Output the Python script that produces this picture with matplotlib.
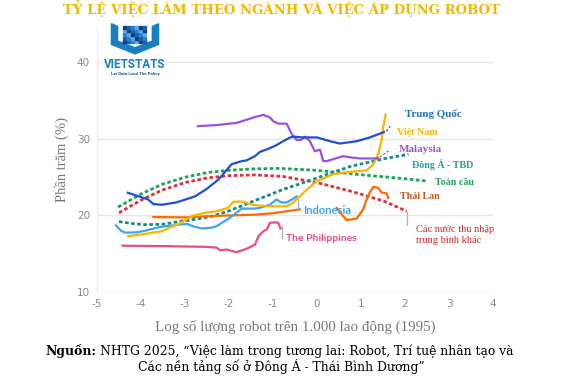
import numpy as np
import matplotlib
matplotlib.use("Agg")
import matplotlib.pyplot as plt
from matplotlib.patches import Polygon, Rectangle

plt.rcParams["axes.unicode_minus"] = False

# ---------------------------------------------------------------------------
# data
# ---------------------------------------------------------------------------
cn_x = [-4.30, -4.05, -3.84, -3.72, -3.53, -3.2, -2.77, -2.5, -2.24, -1.94, -1.71, -1.6,
        -1.41, -1.3, -1.07, -0.92, -0.77, -0.61, -0.54, -0.31, 0.0, 0.3, 0.52, 0.9, 1.2, 1.52]
cn_y = [22.97, 22.5, 22.1, 21.5, 21.4, 21.7, 22.5, 23.5, 24.7, 26.7, 27.1, 27.2,
        27.75, 28.3, 28.8, 29.2, 29.7, 30.2, 30.3, 30.2, 30.2, 29.7, 29.4, 29.7, 30.2, 30.9]

my_x = [-2.71, -2.3, -1.83, -1.6, -1.45, -1.22, -1.07, -0.99, -0.88, -0.69, -0.57, -0.46,
        -0.35, -0.27, -0.16, -0.05, 0.07, 0.14, 0.22, 0.45, 0.6, 0.75, 0.98, 1.28, 1.38]
my_y = [31.67, 31.8, 32.1, 32.5, 32.8, 33.15, 32.8, 32.3, 32.0, 32.0, 30.6, 29.85,
        29.9, 30.3, 29.7, 28.4, 28.6, 27.1, 27.1, 27.5, 27.75, 27.6, 27.45, 27.45, 27.5]

vn_x = [-4.29, -3.9, -3.53, -3.11, -2.81, -2.5, -2.28, -2.02, -1.9, -1.67, -1.48, -1.14,
        -0.69, -0.54, -0.39, -0.23, 0.0, 0.37, 0.75, 1.13, 1.28, 1.39, 1.47, 1.51, 1.56]
vn_y = [17.3, 17.6, 17.95, 19.0, 20.0, 20.4, 20.55, 21.0, 21.8, 21.8, 21.4, 21.2,
        21.2, 21.7, 22.5, 23.4, 24.5, 25.4, 25.7, 25.9, 26.7, 28.0, 29.9, 31.7, 33.2]

id_x = [-4.57, -4.45, -4.36, -4.1, -3.91, -3.57, -3.15, -2.96, -2.77, -2.62, -2.4, -2.28,
        -1.98, -1.71, -1.41, -1.3, -1.07, -0.92, -0.81, -0.69, -0.54, -0.46]
id_y = [18.7, 18.0, 17.75, 17.8, 18.0, 18.5, 18.8, 18.9, 18.5, 18.3, 18.4, 18.6,
        19.7, 20.9, 20.9, 21.0, 21.4, 22.1, 21.7, 21.7, 22.2, 22.5]

th_x = [-3.72, -3.0, -2.5, -2.0, -1.41, -1.0, -0.7, -0.39, np.nan, 0.45, 0.58, 0.67,
        0.9, 1.05, 1.12, 1.2, 1.28, 1.39, 1.47, 1.58, 1.62]
th_y = [19.8, 19.75, 19.9, 20.0, 20.1, 20.3, 20.55, 20.8, np.nan, 21.0, 20.0, 19.4,
        19.6, 20.8, 22.0, 23.0, 23.75, 23.6, 23.0, 22.9, 22.3]

ph_x = [-4.42, -3.5, -2.5, -2.28, -2.2, -2.05, -1.83, -1.6, -1.41, -1.33, -1.22, -1.14,
        -1.07, -0.95, -0.88, -0.83]
ph_y = [16.05, 16.0, 15.9, 15.8, 15.45, 15.55, 15.2, 15.65, 16.2, 17.3, 17.95, 18.2,
        19.05, 19.1, 19.05, 18.3]

# trend lines (dotted)
gl_x = [-4.52, -4.0, -3.53, -3.0, -2.5, -2.02, -1.41, -0.84, 0.0, 0.67, 1.43, 2.0, 2.49]
gl_y = [21.1, 22.8, 24.05, 25.0, 25.6, 25.9, 26.1, 26.15, 25.9, 25.5, 25.1, 24.8, 24.5]

mi_x = [-4.5, -4.0, -3.53, -3.0, -2.5, -2.02, -1.41, -0.77, 0.0, 0.75, 1.51, 2.04]
mi_y = [20.35, 22.0, 23.3, 24.3, 24.9, 25.2, 25.3, 25.1, 24.3, 23.2, 21.9, 20.56]

ea_x = [-4.5, -4.2, -3.91, -3.5, -3.15, -2.77, -2.39, -2.0, -1.52, -0.77, 0.0, 0.75, 1.51, 2.08]
ea_y = [19.2, 18.95, 18.8, 18.85, 19.2, 19.5, 19.9, 20.6, 21.7, 23.4, 24.9, 26.4, 27.4, 28.0]

x_ticks = [-5, -4, -3, -2, -1, 0, 1, 2, 3, 4]
y_ticks = [10, 20, 30, 40]

# ---------------------------------------------------------------------------
fig = plt.figure(figsize=(5.63, 3.85), dpi=100)
ax = fig.add_axes([97 / 563, 1 - 292 / 385, 396 / 563, 264 / 385])

dot = (0, (1.3, 0.9))
ax.plot(gl_x, gl_y, color="#1ea35a", lw=2, ls=dot)
ax.plot(mi_x, mi_y, color="#e0303a", lw=2, ls=dot)
ax.plot(ea_x, ea_y, color="#178a8a", lw=2, ls=dot)

ax.plot(ph_x, ph_y, color="#f0488a", lw=1.6)
ax.plot(th_x, th_y, color="#ff6a00", lw=1.6)
ax.plot(id_x, id_y, color="#3da5f5", lw=1.6)
ax.plot(vn_x, vn_y, color="#f7b500", lw=1.6)
ax.plot(my_x, my_y, color="#9b51e0", lw=1.6)
ax.plot(cn_x, cn_y, color="#1f4fd8", lw=1.6)

# leader lines
lead = "#b0b0b0"
ax.plot([-0.80, -0.80], [18.6, 17.1], color=lead, lw=0.9)
ax.plot([2.04, 2.04], [20.4, 18.7], color=lead, lw=0.9)
ax.plot([-0.43, -0.43], [22.2, 20.9], color="#7fb8e8", lw=0.9)
ax.plot([1.58, 1.66], [31.0, 31.7], color="#1f4fd8", lw=0.9, ls=(0, (2, 1.5)))
ax.plot([1.42, 1.64], [27.6, 28.5], color="#9b51e0", lw=0.9, ls=(0, (2, 1.5)))

lserif = ["Liberation Serif"]
lab = dict(fontsize=7.2, fontweight="bold", family=lserif, va="center", ha="left")
ax.text(2.0, 33.2, "Trung Quốc", color="#1f6fc5", fontsize=7.9, fontweight="bold",
        family=lserif, va="center", ha="left")
ax.text(1.82, 30.9, "Việt Nam", color="#f5b800", **lab)
ax.text(1.86, 28.6, "Malaysia", color="#9b51e0", fontsize=8, fontweight="bold",
        family=lserif, va="center", ha="left")
ax.text(2.15, 26.6, "Đông Á - TBD", color="#2a9a9a", **lab)
ax.text(2.68, 24.3, "Toàn cầu", color="#1ea35a", **lab)
ax.text(1.89, 22.45, "Thái Lan", color="#c45a1c", **lab)
ax.text(2.25, 17.4, "Các nước thu nhập\ntrung bình khác", color="#d62828",
        fontsize=7.5, family=lserif, va="center", ha="left", linespacing=1.3)
sans = ["Lato", "DejaVu Sans"]
ax.text(-0.31, 20.7, "Indonesia", color="#3da5f5", fontsize=8, fontweight="bold",
        family=sans, va="center", ha="left")
ax.text(-0.70, 16.95, "The Philippines", color="#f0488a", fontsize=7.5, fontweight="bold",
        family=sans, va="center", ha="left")

ax.set_xlim(-5, 4)
ax.set_ylim(10, 44.5)
ax.set_xticks(x_ticks)
ax.set_yticks(y_ticks)
ax.tick_params(axis="both", labelsize=7.5, colors="#8a8a8a", length=0, pad=5)
ax.yaxis.grid(True, color="#e6e6e6", lw=1)
ax.set_axisbelow(True)
for s in ["top", "right", "bottom"]:
    ax.spines[s].set_visible(False)
ax.spines["left"].set_color("#ececec")
ax.set_ylabel("Phần trăm (%)", family=lserif, fontsize=10.5,
              color="#777777", labelpad=6)
ax.set_xlabel("Log số lượng robot trên 1.000 lao động (1995)", family=lserif,
              fontsize=10.8, color="#777777", labelpad=8)

# title and source
serif = ["DejaVu Serif"]
fig.text(0.5, 0.977, "TỶ LỆ VIỆC LÀM THEO NGÀNH VÀ VIỆC ÁP DỤNG ROBOT", ha="center",
         va="center", fontsize=9.5, fontweight="bold", color="#f5b800", family=serif)

src_y1 = 1 - 351 / 385
src_y2 = 1 - 367 / 385
t_bold = fig.text(45 / 563, src_y1, "Nguồn:", ha="left", va="center", fontsize=8.9,
                  fontweight="bold", family=serif, color="black")
fig.canvas.draw()
bb = t_bold.get_window_extent()
fig.text(bb.x1 / fig.bbox.width + 4 / 563, src_y1,
         "NHTG 2025, “Việc làm trong tương lai: Robot, Trí tuệ nhân tạo và",
         ha="left", va="center", fontsize=8.9, family=serif, color="black")
fig.text(0.5, src_y2, "Các nền tảng số ở Đông Á - Thái Bình Dương”",
         ha="center", va="center", fontsize=8.9, family=serif, color="black")

# logo
lg = fig.add_axes([104 / 563, 1 - 78 / 385, 62 / 563, 56 / 385])
lg.set_xlim(0, 1)
lg.set_ylim(0, 1)
lg.axis("off")
lg.add_patch(Polygon([[0.12, 0.97], [0.12, 0.6], [0.5, 0.43], [0.88, 0.6], [0.88, 0.97],
                      [0.78, 0.92], [0.78, 0.66], [0.5, 0.54], [0.22, 0.66], [0.22, 0.92]],
                     closed=True, color="#1a7fc0"))
for i in range(6):
    for j in range(5):
        shade = ["#0d3f7a", "#1a5fa8", "#2a7fd0", "#5aaae6"][(i + j) % 4]
        lg.add_patch(Rectangle((0.3 + i * 0.065, 0.62 + j * 0.065), 0.05, 0.05, color=shade))
lg.text(0.5, 0.25, "VIETSTATS", ha="center", va="center", fontsize=8.5,
        fontweight="bold", color="#1a7fc0", family=["Roboto", "DejaVu Sans"])
lg.text(0.5, 0.08, "Let Data Lead The Policy", ha="center", va="center", fontsize=3.2,
        fontweight="bold", color="#1a4f8a", family=["Roboto", "DejaVu Sans"])

fig.savefig("out.png", dpi=100)
